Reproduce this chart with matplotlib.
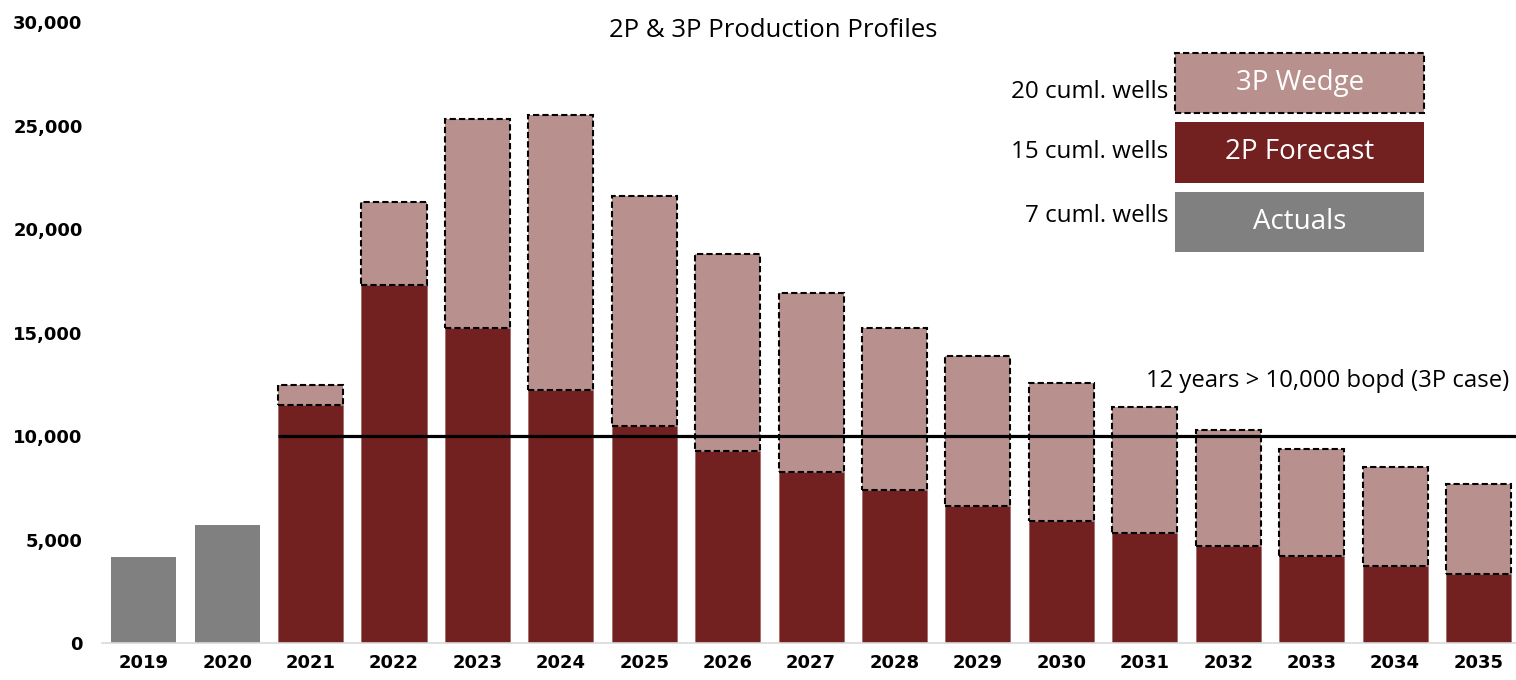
import matplotlib.pyplot as plt
from matplotlib.patches import Rectangle
from matplotlib.ticker import FuncFormatter

years = ['2019', '2020', '2021', '2022', '2023', '2024', '2025', '2026', '2027',
         '2028', '2029', '2030', '2031', '2032', '2033', '2034', '2035']
# bopd
actuals = [4150, 5700, 0, 0, 0, 0, 0, 0, 0, 0, 0, 0, 0, 0, 0, 0, 0]
p2 = [0, 0, 11500, 17300, 15200, 12200, 10500, 9300, 8250, 7400, 6600, 5900,
      5300, 4700, 4200, 3700, 3350]
p3 = [0, 0, 12450, 21300, 25300, 25500, 21600, 18800, 16900, 15200, 13850,
      12550, 11400, 10300, 9350, 8500, 7700]
threshold = 10000

c_act = '#808080'
c_2p = '#722020'
c_3p = '#B8918E'
txt_font = ['Open Sans', 'DejaVu Sans']

fig = plt.figure(figsize=(15.16, 6.8), dpi=100)
ax = fig.add_axes([0.0673, 0.0544, 0.9327, 0.9132])

x = list(range(len(years)))
w = 0.78
first_fc = 2  # 2021 is first forecast year

ax.bar(x[:first_fc], actuals[:first_fc], width=w, color=c_act)
ax.bar(x[first_fc:], p2[first_fc:], width=w, color=c_2p,
       edgecolor='#9c5a5a', linewidth=0.4)
wedge = [b - a for a, b in zip(p2, p3)]
ax.bar(x[first_fc:], wedge[first_fc:], bottom=p2[first_fc:], width=w,
       color=c_3p, edgecolor='black', linewidth=1.5, linestyle=(0, (3, 1.5)))

ax.plot([first_fc - w / 2, 16.45], [threshold, threshold], color='black',
        linewidth=2.3, solid_capstyle='butt')
ax.text(16.37, 12650, '12 years > 10,000 bopd (3P case)', ha='right',
        va='center', fontsize=17.2, family=txt_font)

ax.set_xlim(-0.5, 16.45)
ax.set_ylim(0, 30000)
ax.set_yticks(range(0, 30001, 5000))
ax.yaxis.set_major_formatter(FuncFormatter(lambda v, p: f'{int(v):,}'))
ax.set_xticks(x)
ax.set_xticklabels(years)
for s in ['top', 'right', 'left']:
    ax.spines[s].set_visible(False)
ax.spines['bottom'].set_color('#d9d9d9')
ax.spines['bottom'].set_linewidth(1.2)
ax.tick_params(axis='y', length=0, pad=14, labelsize=13)
ax.tick_params(axis='x', length=0, pad=8, labelsize=13)
for lab in ax.get_xticklabels() + ax.get_yticklabels():
    lab.set_fontweight('bold')
    lab.set_family('DejaVu Sans')

fig.text(0.51, 0.955, '2P & 3P Production Profiles', ha='center', va='center',
         fontsize=18.5, family=txt_font)

# custom legend boxes
legend = [
    ('3P Wedge', '20 cuml. wells', c_3p, 0.853, 0.0966, True, 0.887),
    ('2P Forecast', '15 cuml. wells', c_2p, 0.741, 0.0982, False, 0.791),
    ('Actuals', '7 cuml. wells', c_act, 0.630, 0.0966, False, 0.688),
]
bx, bw = 0.759, 0.176
for name, wells, col, y0, h, dashed, ly in legend:
    if dashed:
        r = Rectangle((bx, y0), bw, h, transform=ax.transAxes, facecolor=col,
                      edgecolor='black', linewidth=1.5, linestyle=(0, (3, 1.5)))
    else:
        r = Rectangle((bx, y0), bw, h, transform=ax.transAxes, facecolor=col,
                      edgecolor='none')
    ax.add_patch(r)
    ax.text(bx + bw / 2, y0 + h / 2, name, transform=ax.transAxes, ha='center',
            va='center', color='white', fontsize=20, family=txt_font)
    ax.text(0.754, ly, wells, transform=ax.transAxes, ha='right', va='center',
            fontsize=17.4, family=txt_font)

fig.savefig('out.png', dpi=100)
